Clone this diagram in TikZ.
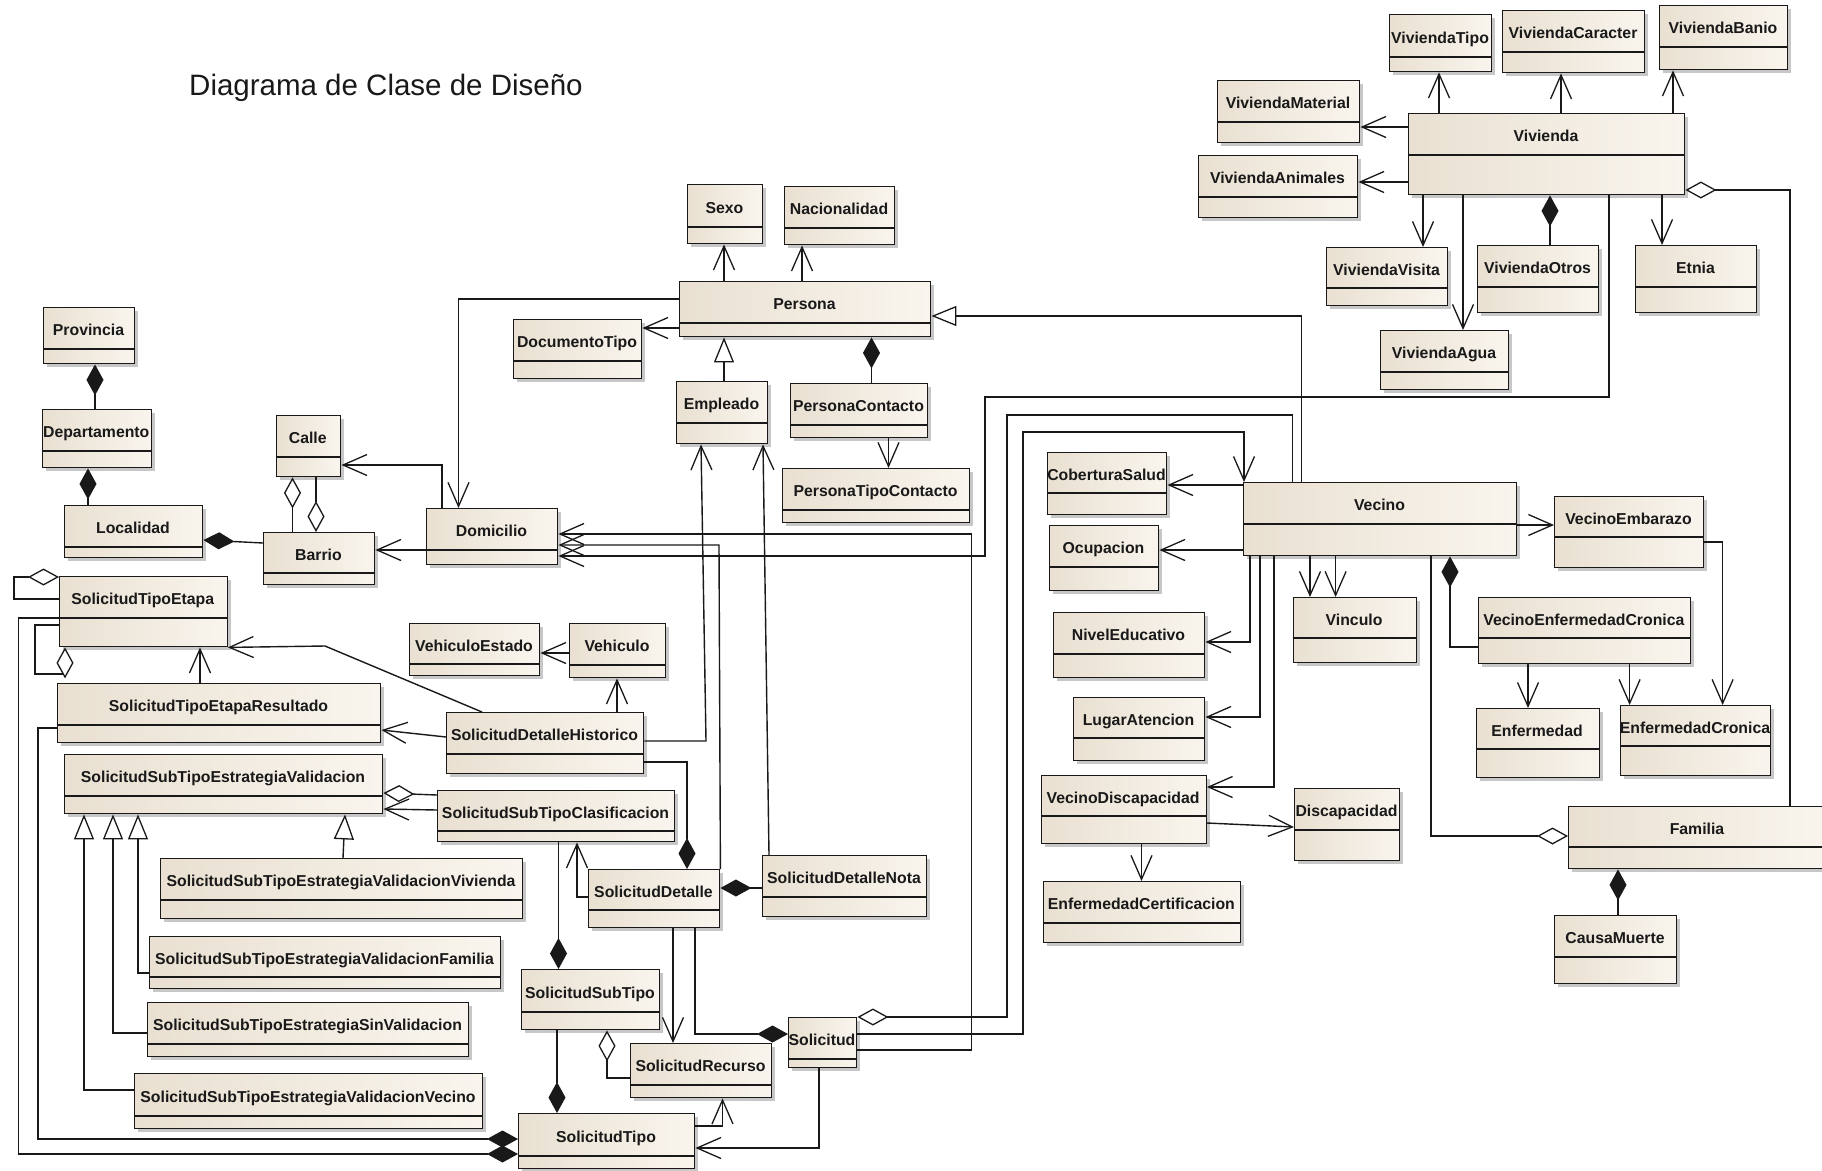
\documentclass[tikz,border=0pt]{standalone}
\usepackage{fontspec}
\setmainfont{Liberation Sans}
\usetikzlibrary{arrows.meta}

\definecolor{clsA}{RGB}{233,224,209}
\definecolor{clsB}{RGB}{249,245,238}
\definecolor{ink}{RGB}{25,25,25}

\tikzset{
  clsbox/.style={draw=ink, line width=1.4pt, left color=clsA, right color=clsB, inner sep=0pt},
  clsline/.style={draw=ink, line width=1.4pt},
  clsshadow/.style={fill=black, opacity=0.22},
  clslabel/.style={font=\fontsize{15.8}{18}\bfseries\selectfont, text=ink, inner sep=0pt,
                   anchor=base},
  wire/.style={draw=ink, line width=1.4pt},
  nav/.style={wire, -{Straight Barb[length=24pt,width=21pt,line width=1.3pt]}},
  gen/.style={wire, -{Triangle[length=25pt,width=20pt,fill=white,line width=1.3pt]}},
  compo/.style={wire, {Diamond[length=31pt,width=17pt]}-},
  aggr/.style={wire, {Diamond[length=31pt,width=17pt,fill=white,line width=1.3pt]}-},
  aggre/.style={wire, -{Diamond[length=31pt,width=17pt,fill=white,line width=1.3pt]}},
}

% class box: name, x1, y1, x2, y2, divider y, label
\newcommand\umlclass[7]{%
  \fill[clsshadow] (#2+4,#3+4) rectangle (#4+4,#5+4);
  \node[clsbox, minimum width={(#4-#2)*1pt}, minimum height={(#5-#3)*1pt},
        anchor=north west] (#1) at (#2,#3) {};
  \draw[clsline] (#2,#6) -- (#4,#6);
  \node[clslabel] (#1-name) at ({(#2+#4)/2},{(#3+#6)/2+7.5}) {#7};
}

\begin{document}
\begin{tikzpicture}[x=1pt, y=-1pt]
\useasboundingbox (0,0) rectangle (1822,1170);
\fill[white] (0,0) rectangle (1822,1170);

\node[anchor=base west, font=\fontsize{29.5}{34}\selectfont, text=ink, inner sep=0pt]
  (title) at (189,95) {Diagrama de Clase de Diseño};

% --- Vivienda ---
\umlclass{VTipo}{1389}{14}{1491}{71}{57}{ViviendaTipo}
\umlclass{VCar}{1502}{10}{1644}{72}{52}{ViviendaCaracter}
\umlclass{VBan}{1659}{5}{1787}{69}{47}{ViviendaBanio}
\umlclass{VMat}{1217}{80}{1359}{142}{122}{ViviendaMaterial}
\umlclass{Viv}{1408}{113}{1684}{194}{155}{Vivienda}
\umlclass{VAni}{1198}{155}{1357}{217}{197}{ViviendaAnimales}
\umlclass{VVis}{1326}{247}{1447}{305}{288}{ViviendaVisita}
\umlclass{VOtr}{1477}{245}{1598}{312}{287}{ViviendaOtros}
\umlclass{Etnia}{1635}{245}{1756}{312}{287}{Etnia}
\umlclass{VAgua}{1380}{330}{1508}{389}{372}{ViviendaAgua}

% --- Persona ---
\umlclass{Sexo}{687}{184}{762}{243}{227}{Sexo}
\umlclass{Nac}{784}{186}{894}{244}{228}{Nacionalidad}
\umlclass{Per}{679}{281}{930}{336}{323}{Persona}
\umlclass{Doc}{513}{319}{641}{378}{361}{DocumentoTipo}
\umlclass{Emp}{676}{381}{767}{443}{423}{Empleado}
\umlclass{PC}{790}{383}{927}{437}{425}{PersonaContacto}
\umlclass{PTC}{782}{468}{969}{522}{510}{PersonaTipoContacto}

% --- Ubicacion ---
\umlclass{Prov}{43}{307}{134}{363}{349}{Provincia}
\umlclass{Dep}{41.5}{409}{151}{467}{451}{Departamento}
\umlclass{Loc}{64}{505}{202}{557}{547}{Localidad}
\umlclass{Calle}{275.5}{415}{340}{476}{457}{Calle}
\umlclass{Bar}{263}{532}{374}{584}{573}{Barrio}
\umlclass{Dom}{426}{508}{557}{564}{550}{Domicilio}

% --- Solicitud ---
\umlclass{STE}{59}{576}{226.5}{646}{618}{SolicitudTipoEtapa}
\umlclass{STER}{57}{683}{380}{742}{725}{SolicitudTipoEtapaResultado}
\umlclass{VehEst}{409}{623}{539}{675}{664}{VehiculoEstado}
\umlclass{Veh}{569}{623}{665}{677}{665}{Vehiculo}
\umlclass{SDH}{446}{712}{643}{773}{754}{SolicitudDetalleHistorico}
\umlclass{SSTEV}{64}{754}{382}{813}{796}{SolicitudSubTipoEstrategiaValidacion}
\umlclass{SSTC}{437}{790}{674}{841}{831}{SolicitudSubTipoClasificacion}
\umlclass{SSTEVV}{160}{858}{522}{918}{900}{SolicitudSubTipoEstrategiaValidacionVivienda}
\umlclass{SSTEVF}{149}{936}{500}{988}{977}{SolicitudSubTipoEstrategiaValidacionFamilia}
\umlclass{SSTESV}{147}{1002}{468}{1056}{1044}{SolicitudSubTipoEstrategiaSinValidacion}
\umlclass{SSTEVVe}{134}{1073}{482}{1128}{1116}{SolicitudSubTipoEstrategiaValidacionVecino}
\umlclass{SD}{588}{869}{719}{927}{910}{SolicitudDetalle}
\umlclass{SDN}{762}{855}{926}{916}{897}{SolicitudDetalleNota}
\umlclass{SST}{521}{969}{659}{1029}{1012}{SolicitudSubTipo}
\umlclass{SR}{630}{1043}{771}{1097}{1085}{SolicitudRecurso}
\umlclass{Sol}{788}{1017}{856}{1067}{1059}{Solicitud}
\umlclass{ST}{518}{1113}{694}{1168}{1156}{SolicitudTipo}

% --- Vecino ---
\umlclass{CS}{1047}{452}{1166}{514}{493}{CoberturaSalud}
\umlclass{Ocu}{1049}{525}{1158}{590}{567}{Ocupacion}
\umlclass{Vec}{1243}{482}{1516}{555}{524}{Vecino}
\umlclass{VEmb}{1554}{496}{1703}{567}{537}{VecinoEmbarazo}
\umlclass{Vinc}{1292.6}{597}{1415.5}{662}{638}{Vinculo}
\umlclass{NE}{1053}{612}{1204}{677}{654}{NivelEducativo}
\umlclass{VEC}{1477.7}{597}{1690}{663}{638}{VecinoEnfermedadCronica}
\umlclass{LA}{1073}{697}{1204}{760}{738}{LugarAtencion}
\umlclass{Enf}{1475.6}{708}{1598.5}{777}{749}{Enfermedad}
\umlclass{EC}{1620}{705}{1770}{775}{746}{EnfermedadCronica}
\umlclass{VD}{1040.7}{775}{1205.5}{843}{816}{VecinoDiscapacidad}
\umlclass{Disc}{1294}{788}{1399}{860}{830}{Discapacidad}
\umlclass{ECert}{1042.7}{881}{1240}{942}{923}{EnfermedadCertificacion}
\umlclass{Fam}{1568}{806}{1826}{868}{847}{Familia}
\umlclass{CM}{1554}{915}{1676}{983}{957}{CausaMuerte}

% --- Vivienda links ---
\draw[nav] (Viv.north -| 1439,0) -- (VTipo.south -| 1439,0);
\draw[nav] (Viv.north -| 1561,0) -- (VCar.south -| 1561,0);
\draw[nav] (Viv.north -| 1673,0) -- (VBan.south -| 1673,0);
\draw[nav] (Viv.west |- 0,127) -- (VMat.east |- 0,127);
\draw[nav] (Viv.west |- 0,182) -- (VAni.east |- 0,182);
\draw[nav] (Viv.south -| 1423,0) -- (VVis.north -| 1423,0);
\draw[nav] (Viv.south -| 1463,0) -- (VAgua.north -| 1463,0);
\draw[compo] (Viv.south -| 1550,0) -- (VOtr.north -| 1550,0);
\draw[nav] (Viv.south -| 1662,0) -- (Etnia.north -| 1662,0);
\draw[nav] (Viv.south -| 1609,0) -- (1609,397) -| (985,556) -- (Dom.east |- 0,556);
\draw[aggr] (Viv.east |- 0,190) -| (Fam.north -| 1790,0);

% --- Persona links ---
\draw[nav] (Per.north -| 724,0) -- (Sexo.south -| 724,0);
\draw[nav] (Per.north -| 802,0) -- (Nac.south -| 802,0);
\draw[nav] (Per.west |- 0,328) -- (Doc.east |- 0,328);
\draw[nav] (Per.west |- 0,299) -| (Dom.north -| 458.5,0);
\draw[gen] (Emp.north -| 724,0) -- (Per.south -| 724,0);
\draw[compo] (Per.south -| 871.5,0) -- (PC.north -| 871.5,0);
\draw[nav] (PC.south -| 888.5,0) -- (PTC.north -| 888.5,0);
\draw[gen] (Vec.north -| 1301.6,0) |- (Per.east |- 0,316);

% --- Ubicacion links ---
\draw[compo] (Prov.south -| 95,0) -- (Dep.north -| 95,0);
\draw[compo] (Dep.south -| 88,0) -- (Loc.north -| 88,0);
\draw[compo] (Loc.east |- 0,540) -- (Bar.west |- 0,543);
\draw[aggr] (Calle.south -| 292.5,0) -- (Bar.north -| 292.5,0);
\draw[aggr] (Bar.north -| 316,0) -- (Calle.south -| 316,0);
\draw[nav] (Dom.north -| 442,0) |- (Calle.east |- 0,465);
\draw[nav] (Dom.west |- 0,550) -- (Bar.east |- 0,550);

% --- Solicitud links ---
\draw[aggre] (STE.west |- 0,599) -| (14,577) -- (STE.west |- 0,577);
\draw[aggre] (STE.west |- 0,625) -| (35,674) -| (STE.south -| 65,0);
\draw[nav] (STER.north -| 200,0) -- (STE.south -| 200,0);
\draw[nav] (SDH.north -| 482,0) -- (325,646) -- (STE.south east);
\draw[nav] (SDH.west |- 0,737) -- (STER.east |- 0,730);
\draw[nav] (SDH.north -| 617,0) -- (Veh.south -| 617,0);
\draw[nav] (Veh.west |- 0,653) -- (VehEst.east |- 0,653);
\draw[nav] (SDH.east |- 0,741) -- (706,741) -- (Emp.south -| 701,0);
\draw[nav] (SDN.north -| 769,0) -- (Emp.south -| 763,0);
\draw[compo] (SD.north -| 687,0) |- (SDH.east |- 0,762);
\draw[compo] (SD.east |- 0,888) -- (SDN.west |- 0,888);
\draw[nav] (SD.west |- 0,897) -| (SSTC.south -| 577,0);
\draw[nav] (SD.south -| 673,0) -- (SR.north -| 673,0);
\draw[compo] (Sol.west |- 0,1034) -| (SD.south -| 695,0);
\draw[nav] (SD.north east) -- (719,545) -- (Dom.east |- 0,545);
\draw[aggr] (SSTEV.east |- 0,793) -- (SSTC.west |- 0,795);
\draw[nav] (SSTC.west |- 0,810) -- (SSTEV.east |- 0,809);
\draw[gen] (SSTEVV.north -| 343,0) -- (SSTEV.south -| 345,0);
\draw[gen] (SSTEVF.west |- 0,973) -| (SSTEV.south -| 138,0);
\draw[gen] (SSTESV.west |- 0,1033) -| (SSTEV.south -| 113,0);
\draw[gen] (SSTEVVe.west |- 0,1090) -| (SSTEV.south -| 84,0);
\draw[compo] (SST.north -| 558.5,0) -- (SSTC.south -| 558.5,0);
\draw[compo] (ST.north -| 557,0) -- (SST.south -| 557,0);
\draw[aggr] (SST.south -| 607,0) |- (SR.west |- 0,1078);
\draw[nav] (ST.east |- 0,1126) -| (SR.south -| 722.5,0);
\draw[nav] (Sol.south -| 819,0) |- (ST.east |- 0,1148);
\draw[compo] (ST.west |- 0,1154) -| (18.6,618) -- (STE.west |- 0,618);
\draw[compo] (ST.west |- 0,1139) -| (38,728) -- (STER.west |- 0,728);
\draw[nav] (Sol.east |- 0,1050) -| (971.5,534) -- (Dom.east |- 0,534);
\draw[aggr] (Sol.east |- 0,1017) -| (1007,415) -| (Vec.north -| 1292.6,0);
\draw[nav] (Sol.east |- 0,1034) -| (1023,432) -| (Vec.north -| 1244,0);

% --- Vecino links ---
\draw[nav] (Vec.west |- 0,485) -- (CS.east |- 0,485);
\draw[nav] (Vec.west |- 0,550) -- (Ocu.east |- 0,550);
\draw[nav] (Vec.south -| 1250,0) |- (NE.east |- 0,642);
\draw[nav] (Vec.south -| 1260,0) |- (LA.east |- 0,717);
\draw[nav] (Vec.south -| 1274,0) |- (VD.east |- 0,787);
\draw[nav] (Vec.south -| 1310,0) -- (Vinc.north -| 1310,0);
\draw[nav] (Vec.south -| 1335.6,0) -- (Vinc.north -| 1335.6,0);
\draw[compo] (Vec.south -| 1450,0) |- (VEC.west |- 0,647);
\draw[aggre] (Vec.south -| 1431,0) |- (Fam.west |- 0,836);
\draw[nav] (Vec.east |- 0,525) -- (VEmb.west |- 0,525);
\draw[nav] (VEmb.east |- 0,542) -| (EC.north -| 1722.6,0);
\draw[nav] (VEC.south -| 1528,0) -- (Enf.north -| 1528,0);
\draw[nav] (VEC.south -| 1629.6,0) -- (EC.north -| 1629.6,0);
\draw[compo] (Fam.south -| 1618,0) -- (CM.north -| 1618,0);
\draw[nav] (VD.east |- 0,823) -- (Disc.west |- 0,827);
\draw[nav] (VD.south -| 1141.5,0) -- (ECert.north -| 1141.5,0);
\end{tikzpicture}
\end{document}
